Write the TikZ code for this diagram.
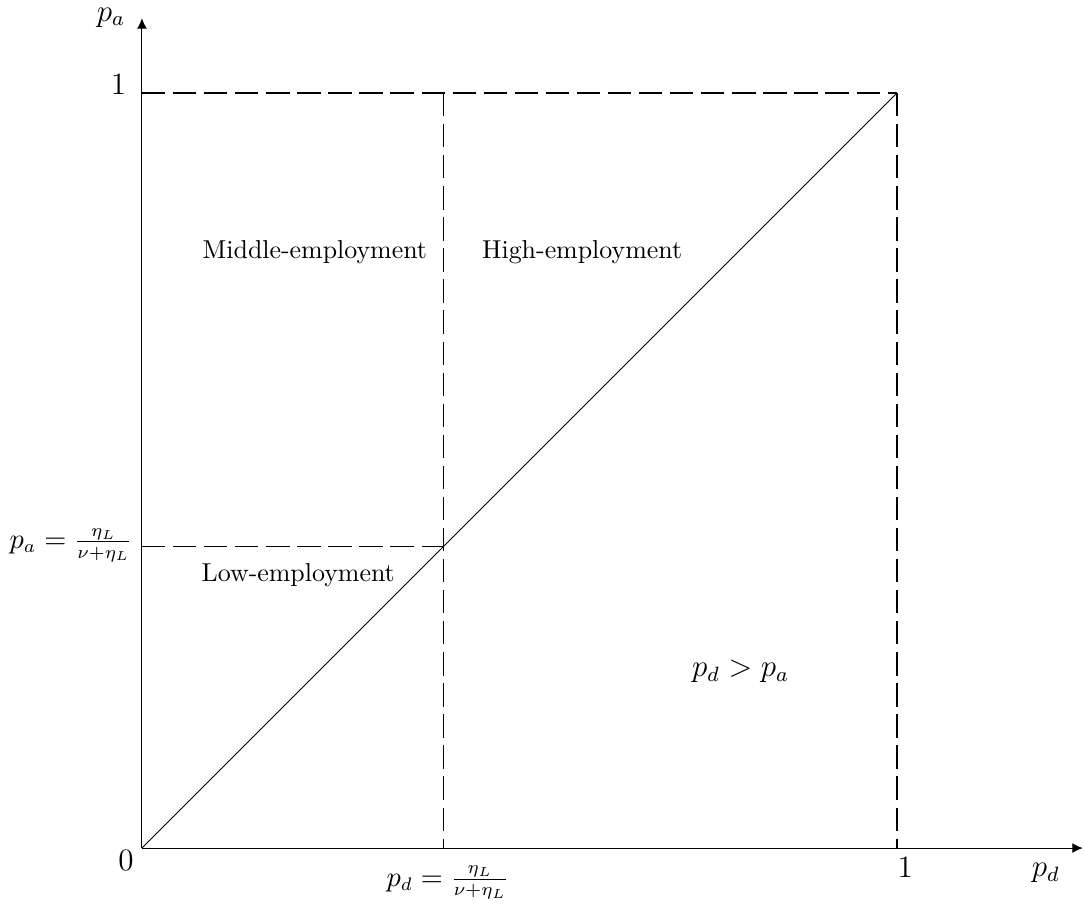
\documentclass[tikz,border=0pt]{standalone}
\usetikzlibrary{arrows.meta}

\tikzset{
  regaxis/.style={line width=.4pt, -{Latex[length=4pt,width=3.8pt]}},
  regguide/.style={line width=.4pt, dash pattern=on 9pt off 3pt},
  reglabel/.style={inner sep=0pt},
  regmark/.style={inner sep=0pt, font=\large},
  regfrac/.style={inner sep=0pt, font=\fontsize{10.6}{12}\selectfont}
}

\begin{document}
\begin{tikzpicture}[x=10.25cm, y=10.25cm]
\useasboundingbox (-0.188,-0.0755) rectangle (1.2477,1.1232);
\coordinate (o) at (0,0);
\coordinate (xend) at (1.246,0);
\coordinate (yend) at (0,1.099);
\coordinate (xone) at (1,0);
\coordinate (yone) at (0,1);
\coordinate (top) at (1,1);
\coordinate (cut) at (0.4,0.4);
\coordinate (cutx) at (0.4,0);
\coordinate (cuty) at (0,0.4);
\coordinate (cuttop) at (0.4,1);
% axes
\draw[regaxis] (o) -- (xend);
\draw[regaxis] (o) -- (yend);
% guides
\draw[regguide] (yone) -- (top);
\draw[regguide] (top) -- (xone);
\draw[regguide] (cuttop) -- (cutx);
\draw[regguide] (cuty) -- (cut);
\draw[line width=.4pt] (o) -- (top);
% labels
\node[regmark] (lpa) at (-0.041,1.1) {$p_a$};
\node[regmark] (lpd) at (1.197,-0.033) {$p_d$};
\node[regmark] (lzero) at (-0.021,-0.017) {$0$};
\node[regmark] (lyone) at (-0.031,1.011) {$1$};
\node[regmark] (lxone) at (1.011,-0.026) {$1$};
\node[regfrac] (lcutx) at (0.405,-0.046) {$p_d=\frac{\eta_L}{\nu+\eta_L}$};
\node[regfrac] (lcuty) at (-0.094,0.401) {$p_a=\frac{\eta_L}{\nu+\eta_L}$};
\node[reglabel] (lmid) at (0.229,0.789) {Middle-employment};
\node[reglabel] (lhigh) at (0.583,0.789) {High-employment};
\node[reglabel] (llow) at (0.207,0.362) {Low-employment};
\node[regmark] (lineq) at (0.793,0.234) {$p_d>p_a$};
\end{tikzpicture}
\end{document}
